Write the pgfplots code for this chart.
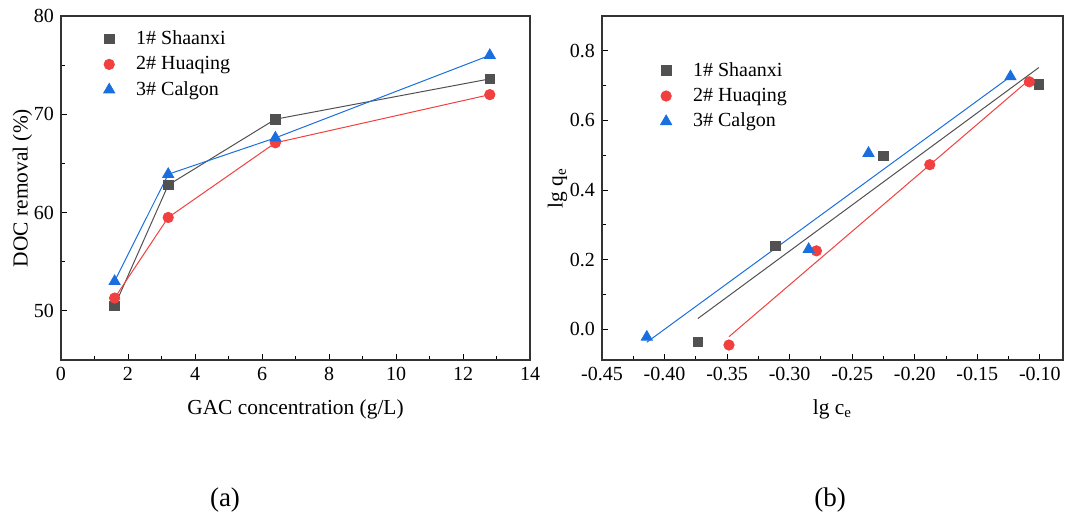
\documentclass[border=0pt]{standalone}
\usepackage{pgfplots}
\pgfplotsset{compat=1.18}
\usepackage{fontspec}
\setmainfont{Liberation Serif}

\definecolor{cblack}{HTML}{515151}
\definecolor{cred}{HTML}{F14040}
\definecolor{cblue}{HTML}{1A6FDF}

\pgfplotsset{
  panel/.style={
    width=234.5pt, height=172pt, scale only axis,
    axis line style={line width=0.6pt, black!80},
    tick align=inside,
    xtick pos=bottom, ytick pos=left,
    major tick length=3pt, minor tick length=1.8pt,
    tick style={line width=0.5pt, black},
    minor x tick num=1, minor y tick num=1,
    tick label style={font=\fontsize{10}{12}\selectfont},
    label style={font=\fontsize{10.7}{12}\selectfont},
    xlabel shift=2.5pt,
    /pgf/number format/assume math mode=true,
    legend image code/.code={
      \path[draw=none, fill=none] (-6pt,-3pt) rectangle (11.5pt,3pt);
      \draw[##1] plot coordinates {(0pt,0pt)};
    },
    legend style={draw=none, fill=none, font=\fontsize{10}{12}\selectfont,
      row sep=0.4pt, cells={anchor=west}},
    legend cell align=left,
  },
}

\begin{document}
\begin{tikzpicture}
\useasboundingbox (0,0) rectangle (532.5pt,260.5pt);

% (a)
\begin{axis}[panel,
  at={(30.5pt,80.5pt)}, anchor=south west,
  xmin=0, xmax=14, ymin=45, ymax=80,
  xtick={0,2,...,14}, ytick={50,60,70,80},
  /pgf/number format/fixed,
  xlabel={GAC concentration (g/L)},
  ylabel={DOC removal (\%)},
  ylabel shift=-6pt,
  legend style={at={(axis description cs:0.0636,0.982)}, anchor=north west},
]
\addplot[cblack, line width=0.5pt, forget plot] coordinates {(1.6,50.5) (3.2,62.8) (6.4,69.5) (12.8,73.6)};
\addplot[cred, line width=0.5pt, forget plot] coordinates {(1.6,51.3) (3.2,59.5) (6.4,67.1) (12.8,72.0)};
\addplot[cblue, line width=0.5pt, forget plot] coordinates {(1.6,53.0) (3.2,63.9) (6.4,67.6) (12.8,76.0)};
\addplot[only marks, mark=square*, mark size=2.4pt, color=cblack] coordinates {(1.6,50.5) (3.2,62.8) (6.4,69.5) (12.8,73.6)};
\addplot[only marks, mark=*, mark size=2.6pt, color=cred] coordinates {(1.6,51.3) (3.2,59.5) (6.4,67.1) (12.8,72.0)};
\addplot[only marks, mark=triangle*, mark size=3.2pt, color=cblue] coordinates {(1.6,53.0) (3.2,63.9) (6.4,67.6) (12.8,76.0)};
\legend{1\# Shaanxi, 2\# Huaqing, 3\# Calgon}
\end{axis}

% (b)
\begin{axis}[panel, width=230.5pt,
  at={(301pt,80.5pt)}, anchor=south west,
  xmin=-0.45, xmax=-0.0815, ymin=-0.088, ymax=0.9,
  xtick={-0.45,-0.40,...,-0.10}, ytick={0,0.2,...,0.8},
  xticklabel style={/pgf/number format/.cd, fixed, fixed zerofill, precision=2},
  yticklabel style={/pgf/number format/.cd, fixed, fixed zerofill, precision=1},
  xlabel={lg c\textsubscript{e}},
  ylabel={lg q\textsubscript{e}},
  ylabel shift=-5.5pt,
  legend style={at={(axis description cs:0.0992,0.89)}, anchor=north west},
]
\addplot[cblack, line width=0.5pt, forget plot] coordinates {(-0.3734,0.031) (-0.1008,0.752)};
\addplot[cred, line width=0.5pt, forget plot] coordinates {(-0.3485,-0.021) (-0.1084,0.717)};
\addplot[cblue, line width=0.5pt, forget plot] coordinates {(-0.4142,-0.037) (-0.1235,0.726)};
\addplot[only marks, mark=square*, mark size=2.4pt, color=cblack] coordinates {(-0.3734,-0.036) (-0.3116,0.240) (-0.2252,0.498) (-0.1008,0.703)};
\addplot[only marks, mark=*, mark size=2.6pt, color=cred] coordinates {(-0.3485,-0.045) (-0.2786,0.2255) (-0.188,0.473) (-0.1084,0.711)};
\addplot[only marks, mark=triangle*, mark size=3.2pt, color=cblue] coordinates {(-0.4142,-0.022) (-0.2848,0.230) (-0.237,0.506) (-0.1235,0.726)};
\legend{1\# Shaanxi, 2\# Huaqing, 3\# Calgon}
\end{axis}

\node[font=\fontsize{13.5}{15}\selectfont] at (112.5pt,10.5pt) {(a)};
\node[font=\fontsize{13.5}{15}\selectfont] at (415pt,10.5pt) {(b)};
\end{tikzpicture}
\end{document}
